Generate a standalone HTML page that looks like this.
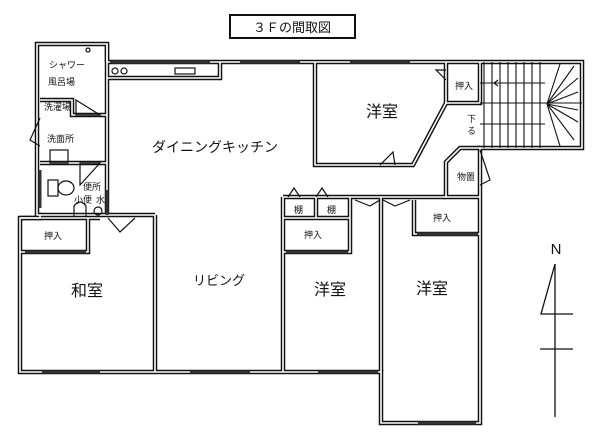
<!DOCTYPE html>
<html><head><meta charset="utf-8"><style>
html,body{margin:0;padding:0;background:#fff;}
svg{display:block;}
text{font-family:"Liberation Sans","Noto Sans CJK JP",sans-serif;fill:#111;}
.w{fill:none;stroke:#111;stroke-width:4.5;stroke-linejoin:miter;}
.wi{fill:none;stroke:#fff;stroke-width:1.6;stroke-linejoin:miter;}
.t{fill:none;stroke:#111;stroke-width:1.2;}
.win{stroke:#333;stroke-width:3;}
</style></head><body>
<svg width="600" height="446" viewBox="0 0 600 446" xmlns="http://www.w3.org/2000/svg">
<rect x="0" y="0" width="600" height="446" fill="#fff"/>
<rect x="230" y="15" width="125" height="23" fill="#fff" stroke="#111" stroke-width="2"/>
<text x="292" y="32" font-size="13" text-anchor="middle">３Ｆの間取図</text>

<g class="w">
<path d="M107,62 L582,62 L582,148 L480,148 L480,197 L480,423 L381,423 L381,372 L20,372 L20,218 L40,218 L40,215 L37,215 L37,44 L107,44 L107,62"/>
<path d="M107,44 L107,215 M40,100 L72,100 L72,115 L107,115 M40,163 L107,163 M40,215 L107,215 M107,215 L155,215 M155,215 L155,372"/>
<path d="M107,78 L220,78 L220,62"/>
<path d="M20,218 L100,218 M20,252 L88,252 L88,218"/>
<path d="M283,197 L283,372 M283,197 L446,197 M381,197 L381,372"/>
<path d="M315,62 L315,165 L413,165 L446,103 L446,62 M446,103 L480,103 L480,62"/>
<path d="M480,148 L460,148 L446,162 L446,197 L480,197"/>
<path d="M283,218 L350,218 L350,197 M316,197 L316,218 M283,252 L350,252 L350,218"/>
<path d="M414,200 L414,234 L480,234"/>
</g>
<g class="wi">
<path d="M107,62 L582,62 L582,148 L480,148 L480,197 L480,423 L381,423 L381,372 L20,372 L20,218 L40,218 L40,215 L37,215 L37,44 L107,44 L107,62"/>
<path d="M107,44 L107,215 M40,100 L72,100 L72,115 L107,115 M40,163 L107,163 M40,215 L107,215 M107,215 L155,215 M155,215 L155,372"/>
<path d="M107,78 L220,78 L220,62"/>
<path d="M20,218 L100,218 M20,252 L88,252 L88,218"/>
<path d="M283,197 L283,372 M283,197 L446,197 M381,197 L381,372"/>
<path d="M315,62 L315,165 L413,165 L446,103 L446,62 M446,103 L480,103 L480,62"/>
<path d="M480,148 L460,148 L446,162 L446,197 L480,197"/>
<path d="M283,218 L350,218 L350,197 M316,197 L316,218 M283,252 L350,252 L350,218"/>
<path d="M414,200 L414,234 L480,234"/>
</g>
<g class="win">
<line x1="110" y1="62" x2="210" y2="62"/><line x1="240" y1="62" x2="300" y2="62"/><line x1="350" y1="62" x2="410" y2="62"/>
<line x1="42" y1="372" x2="100" y2="372"/><line x1="190" y1="372" x2="250" y2="372"/><line x1="318" y1="372" x2="378" y2="372"/>
<line x1="418" y1="423" x2="476" y2="423"/><line x1="25" y1="252" x2="86" y2="252"/><line x1="286" y1="252" x2="348" y2="252"/><line x1="417" y1="234" x2="478" y2="234"/>
<line x1="40" y1="170" x2="40" y2="208"/><line x1="107" y1="190" x2="107" y2="215"/>
</g>
<circle cx="115" cy="71" r="3" class="t"/><circle cx="124" cy="71" r="3" class="t"/>
<rect x="175" y="68" width="20" height="6" class="t"/>
<g stroke="#111" stroke-width="1.1">
<line x1="480" y1="103" x2="582" y2="103"/>
<line x1="480" y1="83" x2="545" y2="83"/><line x1="480" y1="124" x2="545" y2="124"/>
<line x1="484" y1="62" x2="484" y2="148"/><line x1="492" y1="62" x2="492" y2="148"/><line x1="500" y1="62" x2="500" y2="148"/><line x1="508" y1="62" x2="508" y2="148"/><line x1="516" y1="62" x2="516" y2="148"/><line x1="524" y1="62" x2="524" y2="148"/><line x1="532" y1="62" x2="532" y2="148"/><line x1="540" y1="62" x2="540" y2="148"/>
<line x1="547" y1="104" x2="574" y2="66"/><line x1="547" y1="104" x2="578" y2="78"/><line x1="547" y1="104" x2="578" y2="92"/><line x1="547" y1="104" x2="578" y2="110"/><line x1="547" y1="104" x2="578" y2="122"/><line x1="547" y1="104" x2="574" y2="140"/><line x1="547" y1="104" x2="560" y2="146"/><line x1="547" y1="104" x2="560" y2="64"/>
<path d="M498,80 L494,83 L498,86" fill="none"/>
</g>
<g class="t">
<path d="M76,100 L100,115 L76,115 Z"/>
<path d="M40,118 L30,140 L40,146"/>
<path d="M80,163 L100,163 L80,185 Z"/>
<path d="M108,218 L120,232 L135,218"/>
<path d="M446,80 L436,70 L446,70"/>
<path d="M380,165 L393,152 L395,165"/>
<path d="M480,150 L490,180 L480,185"/>
<path d="M355,200 L370,206 L380,200 M383,200 L395,206 L410,200"/>
<path d="M288,197 L294,188 L300,197 M316,197 L322,188 L328,197"/>
</g>
<rect x="48" y="180" width="10" height="16" class="t"/>
<ellipse cx="66" cy="188" rx="8" ry="7" class="t"/>
<path d="M74,216 L74,206 Q80,198 86,206 L86,216" class="t"/>
<circle cx="98" cy="211" r="4" class="t"/>
<rect x="50" y="150" width="18" height="13" class="t"/>
<circle cx="88" cy="50" r="2" class="t"/>
<g font-size="9">
<text x="67" y="68" text-anchor="middle">シャワー</text>
<text x="48" y="85">風呂場</text>
<text x="44" y="110">洗濯場</text>
<text x="47" y="142">洗面所</text>
<text x="83" y="190">便所</text>
<text x="74" y="203">小便</text><text x="96" y="203">水</text>
<text x="44" y="239">押入</text>
<text x="455" y="89">押入</text>
<text x="457" y="180">物置</text>
<text x="294" y="213">棚</text><text x="327" y="213">棚</text>
<text x="304" y="238">押入</text>
<text x="433" y="221">押入</text>
<text x="467" y="122">下</text><text x="467" y="134">る</text>
</g>
<text x="215" y="152" font-size="14" text-anchor="middle" font-family="Liberation Serif,Noto Serif CJK SC,serif">ダイニングキッチン</text>
<text x="219" y="285" font-size="13" text-anchor="middle" font-family="Liberation Serif,Noto Serif CJK SC,serif">リビング</text>
<text x="87" y="296" font-size="16" text-anchor="middle">和室</text>
<text x="330" y="295" font-size="16" text-anchor="middle">洋室</text>
<text x="432" y="294" font-size="16" text-anchor="middle">洋室</text>
<text x="382" y="117" font-size="16" text-anchor="middle">洋室</text>
<text x="556" y="254" font-size="15" text-anchor="middle" font-family="Liberation Serif,serif">N</text>
<g stroke="#111" stroke-width="1.3" fill="none">
<line x1="555" y1="264" x2="555" y2="417"/>
<path d="M555,264 L541,314 L573,314"/>
<line x1="540" y1="349" x2="573" y2="349"/>
</g>
</svg>
</body></html>
